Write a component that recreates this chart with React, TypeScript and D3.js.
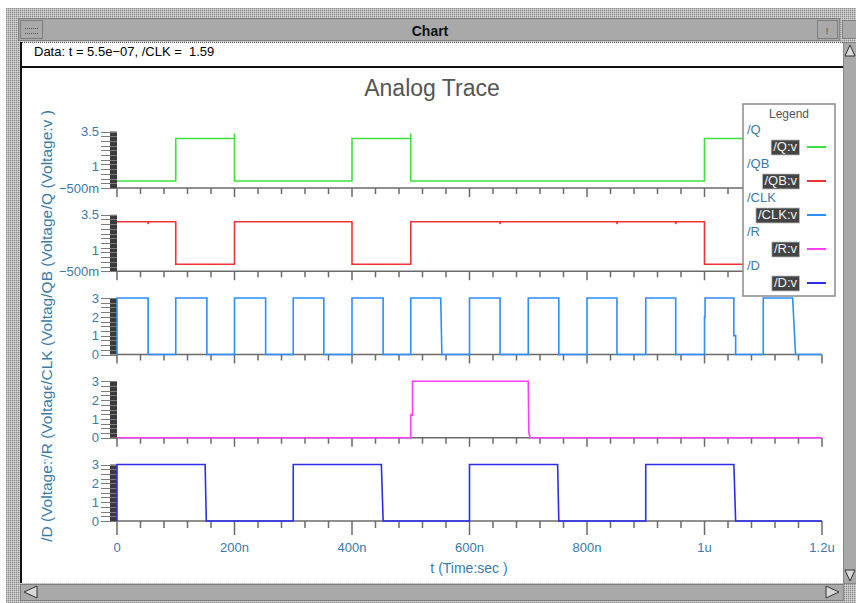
import React, { useEffect, useRef } from "react";
import * as d3 from "d3";

type Pt = [number, number];

// traces: [time (ns), voltage (V)]
const qData: Pt[] = [
  [0, 0], [100, 0], [100, 3], [200, 3], [200, 3.35], [200, 0], [400, 0], [400, 3],
  [500, 3], [500, 3.35], [500, 0], [1000, 0], [1000, 3], [1200, 3],
];
const qbData: Pt[] = [
  [0, 3], [53, 3], [53, 2.85], [54, 3], [100, 3], [100, 0], [200, 0], [200, 3],
  [400, 3], [400, 0], [500, 0], [500, 3], [652, 3], [652, 2.85], [653, 3],
  [851, 3], [851, 2.85], [852, 3], [951, 3], [951, 2.85], [952, 3],
  [1000, 3], [1000, 0], [1200, 0],
];
const clkData: Pt[] = [
  [0, 0], [0, 3], [53, 3], [53, 0], [100, 0], [100, 3], [153, 3], [153, 0],
  [200, 0], [200, 3], [253, 3], [253, 0], [300, 0], [300, 3], [352, 3], [352, 0],
  [400, 0], [400, 3], [453, 3], [453, 0], [500, 0], [500, 3], [551, 3], [553, 0],
  [600, 0], [600, 3], [652, 3], [652, 0], [700, 0], [700, 3], [752, 3], [752, 0],
  [800, 0], [800, 3], [851, 3], [851, 0], [900, 0], [900, 3], [951, 3], [951, 0],
  [1000, 0], [1000, 2], [1001, 2], [1001, 3], [1050, 3], [1050, 1], [1053, 1], [1053, 0],
  [1100, 0], [1100, 3], [1150, 3], [1155, 0], [1200, 0],
];
const rData: Pt[] = [
  [0, 0], [500, 0], [500, 1.2], [503, 1.2], [503, 3], [700, 3], [701, 0.3], [703, 0], [1200, 0],
];
const dData: Pt[] = [
  [0, 0], [0, 3], [150, 3], [152, 0], [300, 0], [300, 3], [450, 3], [453, 0],
  [600, 0], [600, 3], [750, 3], [752, 0], [900, 0], [900, 3], [1050, 3], [1053, 0], [1200, 0],
];

const traces = [qData, qbData, clkData, rData, dData];
const traceNames = ["/Q", "/QB", "/CLK", "/R", "/D"];
const legendLabels = ["/Q:v", "/QB:v", "/CLK:v", "/R:v", "/D:v"];
const traceColors = ["#3ee03e", "#f23333", "#2b8fff", "#ff3cff", "#2d2df2"];

const yDomains: [number, number][] = [[-0.5, 3.5], [-0.5, 3.5], [0, 3], [0, 3], [0, 3]];
const yTickValues = [[-0.5, 1, 3.5], [-0.5, 1, 3.5], [0, 1, 2, 3], [0, 1, 2, 3], [0, 1, 2, 3]];
const yTickLabels = [
  ["\u2212500m", "1", "3.5"], ["\u2212500m", "1", "3.5"],
  ["0", "1", "2", "3"], ["0", "1", "2", "3"], ["0", "1", "2", "3"],
];

const xTickValues = [0, 200, 400, 600, 800, 1000, 1200];
const xTickLabels = ["0", "200n", "400n", "600n", "800n", "1u", "1.2u"];

const FONT = "'Liberation Sans', Arial, Helvetica, sans-serif";
const BLUE = "#3a7aa8";

const App: React.FC = () => {
  const ref = useRef<SVGSVGElement | null>(null);

  useEffect(() => {
    if (!ref.current) return;
    const svg = d3.select(ref.current);
    svg.selectAll("*").remove();

    // ---- window frame ----
    const defs = svg.append("defs");
    const pat = defs.append("pattern").attr("id", "stip")
      .attr("width", 2).attr("height", 2).attr("patternUnits", "userSpaceOnUse");
    pat.append("rect").attr("width", 2).attr("height", 2).attr("fill", "#bcbcbc");
    pat.append("rect").attr("width", 1).attr("height", 1).attr("fill", "#8a8a8a");
    pat.append("rect").attr("x", 1).attr("y", 1).attr("width", 1).attr("height", 1).attr("fill", "#d6d6d6");

    svg.append("rect").attr("width", 856).attr("height", 603).attr("fill", "#fff");
    svg.append("rect").attr("x", 6).attr("y", 8).attr("width", 850).attr("height", 595).attr("fill", "url(#stip)");

    const dotted = (sel: any) => sel.attr("stroke", "#555").attr("stroke-dasharray", "1 1").attr("stroke-width", 1);

    svg.append("rect").attr("x", 18.5).attr("y", 18.5).attr("width", 821).attr("height", 22)
      .attr("fill", "#a9a9a9").call(dotted);
    svg.append("rect").attr("x", 20.5).attr("y", 20.5).attr("width", 22).attr("height", 18)
      .attr("fill", "#a9a9a9").call(dotted);
    [28.5, 33.5].forEach((yy) =>
      svg.append("line").attr("x1", 25).attr("x2", 38).attr("y1", yy).attr("y2", yy).call(dotted));
    svg.append("rect").attr("x", 817.5).attr("y", 20.5).attr("width", 20).attr("height", 18)
      .attr("fill", "#a9a9a9").call(dotted);
    svg.append("text").attr("x", 827).attr("y", 34).attr("text-anchor", "middle")
      .attr("font-family", FONT).attr("font-size", 9).attr("fill", "#444").text("!");
    svg.append("rect").attr("x", 842.5).attr("y", 20.5).attr("width", 14).attr("height", 18)
      .attr("fill", "#a9a9a9").call(dotted);
    svg.append("text").attr("x", 430).attr("y", 36).attr("text-anchor", "middle")
      .attr("font-family", FONT).attr("font-weight", "bold").attr("font-size", 14).attr("fill", "#111")
      .text("Chart");

    // white client area
    svg.append("rect").attr("x", 20).attr("y", 42).attr("width", 823).attr("height", 541).attr("fill", "#fff");
    svg.append("line").attr("x1", 20).attr("x2", 843).attr("y1", 42.5).attr("y2", 42.5).call(dotted);
    svg.append("line").attr("x1", 21).attr("x2", 21).attr("y1", 42).attr("y2", 583)
      .attr("stroke", "#111").attr("stroke-width", 2);
    svg.append("line").attr("x1", 20).attr("x2", 843).attr("y1", 67).attr("y2", 67)
      .attr("stroke", "#111").attr("stroke-width", 2);
    svg.append("text").attr("x", 34).attr("y", 56).attr("font-family", FONT).attr("font-size", 13)
      .attr("fill", "#000").attr("xml:space", "preserve").style("white-space", "pre")
      .text("Data: t = 5.5e\u221207, /CLK =  1.59");

    // right scrollbar
    svg.append("rect").attr("x", 843.5).attr("y", 42.5).attr("width", 13).attr("height", 541)
      .attr("fill", "#a9a9a9").call(dotted);
    svg.append("path").attr("d", "M845,56 L850,45 L855,56 Z").attr("fill", "#d8d8d8").attr("stroke", "#333");
    svg.append("path").attr("d", "M845,570 L850,581 L855,570 Z").attr("fill", "#d8d8d8").attr("stroke", "#333");
    // bottom scrollbar
    svg.append("rect").attr("x", 20.5).attr("y", 584.5).attr("width", 823).attr("height", 16)
      .attr("fill", "#a9a9a9").call(dotted);
    svg.append("path").attr("d", "M24,592 L37,586 L37,598 Z").attr("fill", "#d8d8d8").attr("stroke", "#333");
    svg.append("path").attr("d", "M839,592 L826,586 L826,598 Z").attr("fill", "#d8d8d8").attr("stroke", "#333");

    // ---- chart ----
    const x = d3.scaleLinear().domain([0, 1200]).range([117, 822]);
    const panelH = 56.5;
    const bottomOf = (i: number) => 188 + i * 83.25;

    svg.append("text").attr("x", 432).attr("y", 96).attr("text-anchor", "middle")
      .attr("font-family", FONT).attr("font-size", 23).attr("fill", "#555").text("Analog Trace");

    const g = svg.append("g");
    traces.forEach((data, i) => {
      const b = bottomOf(i);
      const y = d3.scaleLinear().domain(yDomains[i]).range([b, b - panelH]);
      const [d0, d1] = yDomains[i];

      // y axis: dark band with dense ticks
      g.append("rect").attr("x", 110).attr("y", b - panelH).attr("width", 7).attr("height", panelH)
        .attr("fill", "#3a3a3a");
      d3.range(13).forEach((k) => {
        const yy = Math.round(y(d0 + (k * (d1 - d0)) / 12)) + 0.5;
        g.append("line").attr("x1", 101).attr("x2", 117).attr("y1", yy).attr("y2", yy)
          .attr("stroke", "#7c7c7c").attr("stroke-width", 1);
      });
      yTickValues[i].forEach((v, k) => {
        g.append("text").attr("x", 99).attr("y", y(v)).attr("dy", "0.36em").attr("text-anchor", "end")
          .attr("font-family", FONT).attr("font-size", 13).attr("fill", BLUE).text(yTickLabels[i][k]);
      });

      // x axis
      g.append("line").attr("x1", 117).attr("x2", 822).attr("y1", b).attr("y2", b)
        .attr("stroke", "#6a6a6a").attr("stroke-width", 1.5);
      const last = i === traces.length - 1;
      d3.range(0, 1201, 40).forEach((t) => {
        const major = t % 200 === 0;
        const len = last ? (major ? 14 : 7) : major ? 9 : 6;
        g.append("line").attr("x1", x(t)).attr("x2", x(t)).attr("y1", b).attr("y2", b + len)
          .attr("stroke", "#6a6a6a").attr("stroke-width", 1.5);
      });

      const line = d3.line<Pt>().x((d) => x(d[0])).y((d) => y(d[1]));
      g.append("path").datum(data).attr("d", line).attr("fill", "none")
        .attr("stroke", traceColors[i]).attr("stroke-width", 1.6);
    });

    // x tick labels and title
    const lastB = bottomOf(traces.length - 1);
    xTickValues.forEach((t, k) => {
      g.append("text").attr("x", x(t)).attr("y", lastB + 31).attr("text-anchor", "middle")
        .attr("font-family", FONT).attr("font-size", 13).attr("fill", BLUE).text(xTickLabels[k]);
    });
    g.append("text").attr("x", 469).attr("y", 573).attr("text-anchor", "middle")
      .attr("font-family", FONT).attr("font-size", 14).attr("fill", BLUE).text("t (Time:sec )");

    // overlapping y titles, drawn bottom panel first
    for (let i = traces.length - 1; i >= 0; i--) {
      const cy = bottomOf(i) - panelH / 2;
      const tg = g.append("g").attr("transform", `translate(52,${cy}) rotate(-90)`);
      const bg = tg.append("rect").attr("fill", "#fff");
      const tx = tg.append("text").attr("text-anchor", "middle").attr("font-family", FONT)
        .attr("font-size", 15.5).attr("fill", BLUE).text(`${traceNames[i]} (Voltage:v )`);
      const bb = (tx.node() as SVGTextElement).getBBox();
      bg.attr("x", bb.x - 1).attr("y", bb.y).attr("width", bb.width + 2).attr("height", bb.height);
    }

    // legend
    const lg = g.append("g");
    lg.append("rect").attr("x", 743).attr("y", 104).attr("width", 92).attr("height", 192)
      .attr("fill", "#fff").attr("stroke", "#8a8a8a").attr("stroke-width", 1.5);
    lg.append("text").attr("x", 789).attr("y", 118).attr("text-anchor", "middle")
      .attr("font-family", FONT).attr("font-size", 12).attr("fill", "#555").text("Legend");
    traceNames.forEach((name, i) => {
      const ry = 134 + i * 34;
      lg.append("text").attr("x", 747).attr("y", ry).attr("font-family", FONT)
        .attr("font-size", 13).attr("fill", BLUE).text(name);
      const bgR = lg.append("rect").attr("fill", "#444").attr("stroke", "#bbb").attr("stroke-width", 0.8);
      const lt = lg.append("text").attr("x", 797).attr("y", ry + 17).attr("text-anchor", "end")
        .attr("font-family", FONT).attr("font-size", 13).attr("fill", "#f2f2f2").text(legendLabels[i]);
      const bb = (lt.node() as SVGTextElement).getBBox();
      bgR.attr("x", bb.x - 2).attr("y", ry + 6).attr("width", bb.width + 4).attr("height", 15);
      lg.append("line").attr("x1", 807).attr("x2", 826).attr("y1", ry + 13).attr("y2", ry + 13)
        .attr("stroke", traceColors[i]).attr("stroke-width", 2);
    });
  }, []);

  return (
    <div style={{ position: "fixed", left: 0, top: 0 }}>
      <svg ref={ref} width={856} height={603}></svg>
    </div>
  );
};

export default App;
